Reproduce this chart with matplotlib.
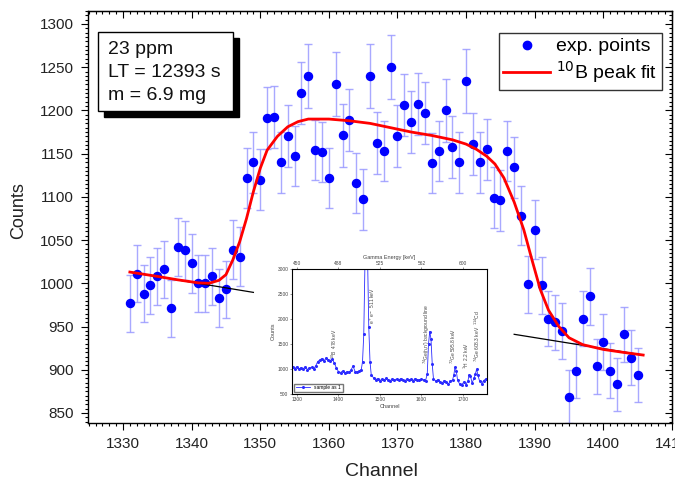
import matplotlib
matplotlib.use("Agg")
import matplotlib.pyplot as plt
from matplotlib.lines import Line2D
from matplotlib.patches import Rectangle
from matplotlib.ticker import MultipleLocator, NullFormatter

plt.rcParams["font.family"] = ["Liberation Sans", "DejaVu Sans"]

# measured points, one per channel
channels = list(range(1331, 1406))
counts = [
    977, 1011, 988, 998, 1008, 1016, 971, 1042, 1038, 1023,
    1000, 1000, 1008, 983, 993, 1039, 1031, 1122, 1140, 1120,
    1191, 1192, 1140, 1170, 1147, 1220, 1240, 1154, 1152, 1122,
    1231, 1171, 1189, 1116, 1097, 1240, 1162, 1153, 1250, 1170,
    1206, 1187, 1207, 1197, 1139, 1153, 1200, 1158, 1140, 1234,
    1161, 1140, 1155, 1099, 1096, 1153, 1134, 1078, 999, 1062,
    998, 959, 955, 945, 869, 899, 959, 985, 904, 932,
    899, 883, 941, 914, 894,
]
errors = [
    33, 33, 33, 33, 33, 33, 33, 34, 34, 34,
    33, 33, 33, 33, 33, 34, 34, 35, 35, 35,
    36, 36, 35, 36, 35, 36, 37, 35, 35, 35,
    37, 36, 36, 35, 35, 37, 36, 35, 37, 36,
    36, 36, 36, 36, 35, 35, 36, 36, 35, 37,
    36, 35, 35, 35, 35, 35, 35, 34, 33, 34,
    33, 32, 32, 32, 31, 32, 32, 33, 32, 32,
    32, 31, 32, 32, 31,
]

# fitted peak curve
fit_x = [1331, 1335, 1338, 1341, 1342.5, 1344, 1345, 1346, 1347, 1348,
         1349, 1350, 1351, 1352.5, 1354, 1355.5, 1357, 1360, 1363, 1366,
         1369, 1372, 1375, 1378, 1380, 1381.5, 1383, 1384.2, 1385.5, 1387,
         1388.4, 1389.6, 1390.8, 1392, 1393.5, 1395, 1397, 1400, 1403, 1405.8]
fit_y = [1013, 1008, 1004, 1000.5, 1000, 1003.5, 1010, 1027, 1048, 1075,
         1106, 1133, 1154, 1170, 1181, 1187, 1190, 1190, 1188, 1185,
         1180, 1175, 1171, 1166, 1161, 1155, 1147, 1138, 1122, 1094,
         1062, 1027, 993, 969, 950, 937, 929, 923.5, 920, 917]

# linear background under the peak
bg_left_x = [1331, 1349]
bg_left_y = [1013, 989.5]
bg_right_x = [1387, 1405.8]
bg_right_y = [941, 917]

info_lines = ["23 ppm", "LT = 12393 s", "m = 6.9 mg"]

# inset: full spectrum
spec_x = [1290, 1295, 1300, 1305, 1310, 1315, 1320, 1325, 1330, 1335, 1340, 1345,
          1350, 1355, 1360, 1365, 1370, 1375, 1380, 1385, 1390, 1395,
          1400, 1405, 1410, 1415, 1420, 1425, 1430, 1435, 1440, 1445, 1450, 1455,
          1458, 1461, 1464, 1467, 1470, 1473, 1476, 1479,
          1485, 1490, 1495, 1500, 1505, 1510, 1515, 1520, 1525, 1530, 1535, 1540,
          1545, 1550, 1555, 1560, 1565, 1570, 1575, 1580, 1585, 1590, 1595, 1600,
          1605, 1610, 1614, 1617, 1620, 1623, 1626, 1629,
          1635, 1640, 1645, 1650, 1655, 1660, 1665, 1670, 1675,
          1678, 1681, 1684, 1687, 1692, 1697, 1702, 1707, 1712, 1715, 1718,
          1722, 1727, 1730, 1733, 1736, 1740, 1745, 1750, 1755]
spec_y = [1040, 1010, 1050, 1000, 1030, 1005, 1045, 990, 1020, 1035, 1000, 1060,
          1150, 1180, 1210, 1160, 1220, 1190, 1170, 1200, 1120, 1020,
          950, 930, 960, 920, 945, 935, 975, 1060, 950, 940, 960, 990,
          1150, 1700, 3200, 3400, 3300, 1850, 1150, 880,
          820, 790, 810, 770, 800, 780, 815, 790, 770, 805, 785, 800,
          775, 810, 790, 765, 800, 780, 795, 770, 810, 790, 775, 800,
          785, 770, 900, 1500, 1750, 1600, 1100, 800,
          760, 790, 740, 720, 770, 750, 700, 760, 780,
          880, 1040, 960, 780, 700, 680, 740, 690, 760, 890, 870,
          720, 820, 900, 1000, 880, 760, 710, 770, 800]
spec_top_labels = ["450", "488", "525", "562", "600"]

W, H = 675, 483


def fx(px):
    return px / W


def fy(py):
    return 1 - py / H


fig = plt.figure(figsize=(6.75, 4.83), dpi=100)
ax = fig.add_axes([fx(88), fy(423), (672 - 88) / W, (423 - 11) / H])

ax.errorbar(channels, counts, yerr=errors, fmt="none", ecolor="#9a9aff",
            elinewidth=1.0, capsize=3, capthick=1.0, alpha=0.85, zorder=2)
ax.plot(channels, counts, "o", color="#0000ff", markersize=5.8, zorder=3)
ax.plot(bg_left_x, bg_left_y, color="black", linewidth=0.9, zorder=4)
ax.plot(bg_right_x, bg_right_y, color="black", linewidth=0.9, zorder=4)
ax.plot(fit_x, fit_y, color="#ff0000", linewidth=2.0, zorder=5)

ax.set_xlim(1324.9, 1410)
ax.set_ylim(838.4, 1315)
ax.xaxis.set_major_locator(MultipleLocator(10))
ax.xaxis.set_minor_locator(MultipleLocator(1))
ax.yaxis.set_major_locator(MultipleLocator(50))
ax.yaxis.set_minor_locator(MultipleLocator(5))
ax.tick_params(which="both", direction="out", colors="black", labelcolor="#222222",
               labelsize=11, width=0.8)
ax.tick_params(which="major", length=5, pad=5)
ax.tick_params(which="minor", length=2.5)
for side in ax.spines.values():
    side.set_linewidth(1.0)

# mirrored ticks on top and right, pointing inward
top_ax = ax.secondary_xaxis("top")
top_ax.xaxis.set_major_locator(MultipleLocator(10))
top_ax.xaxis.set_minor_locator(MultipleLocator(1))
top_ax.xaxis.set_major_formatter(NullFormatter())
top_ax.tick_params(which="both", direction="in", width=0.8)
top_ax.tick_params(which="major", length=5)
top_ax.tick_params(which="minor", length=2.5)
right_ax = ax.secondary_yaxis("right")
right_ax.yaxis.set_major_locator(MultipleLocator(50))
right_ax.yaxis.set_minor_locator(MultipleLocator(5))
right_ax.yaxis.set_major_formatter(NullFormatter())
right_ax.tick_params(which="both", direction="in", width=0.8)
right_ax.tick_params(which="major", length=5)
right_ax.tick_params(which="minor", length=2.5)

fig.text(fx(381), fy(472), "Channel", ha="center", va="center", fontsize=14, color="#222222")
fig.text(fx(19), fy(211), "Counts", ha="center", va="center", rotation=90,
         fontsize=13, color="#222222")

# info box with drop shadow
fig.add_artist(Rectangle((fx(104), fy(117)), (233 - 98) / W, (111 - 32) / H,
                         transform=fig.transFigure, facecolor="black",
                         edgecolor="black", zorder=6))
fig.add_artist(Rectangle((fx(98), fy(111)), (233 - 98) / W, (111 - 32) / H,
                         transform=fig.transFigure, facecolor="white",
                         edgecolor="black", linewidth=1.0, zorder=7))
for line, py in zip(info_lines, [49, 72, 96]):
    fig.text(fx(108), fy(py), line, ha="left", va="center", fontsize=14,
             color="#111111", zorder=8)

handles = [
    Line2D([], [], linestyle="none", marker="o", color="#0000ff", markersize=6),
    Line2D([], [], color="#ff0000", linewidth=2.0),
]
leg = ax.legend(handles, ["exp. points", "$^{10}$B peak fit"], loc="upper right",
                bbox_to_anchor=(fx(662), fy(33)), bbox_transform=fig.transFigure,
                fontsize=14, frameon=True, fancybox=False, edgecolor="black",
                handlelength=2.4, handletextpad=0.3, borderpad=0.25,
                labelspacing=0.2, borderaxespad=0)
leg.get_frame().set_linewidth(1.0)
leg.set_zorder(9)

# inset spectrum
axi = fig.add_axes([fx(292), fy(394), (487 - 292) / W, (394 - 269) / H], zorder=10)
axi.plot(spec_x, spec_y, "-o", color="#2a2aff", linewidth=0.6, markersize=1.2,
         label="sample as 1")
axi.set_xlim(1288, 1758)
axi.set_ylim(500, 3000)
axi.set_xticks([1300, 1400, 1500, 1600, 1700])
axi.set_yticks([500, 1000, 1500, 2000, 2500, 3000])
axi.tick_params(labelsize=3.5, length=1.5, width=0.4, pad=1, colors="#444444")
for side in axi.spines.values():
    side.set_linewidth(0.6)
    side.set_color("#333333")
axi.set_xlabel("Channel", fontsize=4, labelpad=1, color="#444444")
axi.set_ylabel("Counts", fontsize=4, labelpad=1, color="#444444")
top = axi.twiny()
top.set_xlim(axi.get_xlim())
top.set_xticks([1300, 1400, 1500, 1600, 1700])
top.set_xticklabels(spec_top_labels)
top.tick_params(labelsize=3.5, length=1.5, width=0.4, pad=1, colors="#444444")
top.set_xlabel("Gamma Energy [keV]", fontsize=4, labelpad=1, color="#444444")
axi.legend(loc="lower left", fontsize=3.5, handlelength=3, frameon=True,
           fancybox=False, edgecolor="#555555", borderpad=0.3)
axi.text(1390, 1200, "$^{10}$B  478 keV", rotation=90, fontsize=3.5, color="#444444",
         ha="center", va="bottom")
axi.text(1482, 1900, "e$^+$e$^-$  511 keV", rotation=90, fontsize=3.5, color="#444444",
         ha="center", va="bottom")
axi.text(1612, 1100, "$^{74}$Ge(n,n') background line", rotation=90, fontsize=3.5,
         color="#444444", ha="center", va="bottom")
axi.text(1676, 1100, "$^{72}$Ge 595.8 keV", rotation=90, fontsize=3.5, color="#444444",
         ha="center", va="bottom")
axi.text(1708, 1000, "$^{1}$H  2.2 keV", rotation=90, fontsize=3.5, color="#444444",
         ha="center", va="bottom")
axi.text(1735, 1150, "$^{74}$Ge 608.3 keV  $^{114}$Cd", rotation=90, fontsize=3.5,
         color="#444444", ha="center", va="bottom")

fig.savefig("out.png", dpi=100)
